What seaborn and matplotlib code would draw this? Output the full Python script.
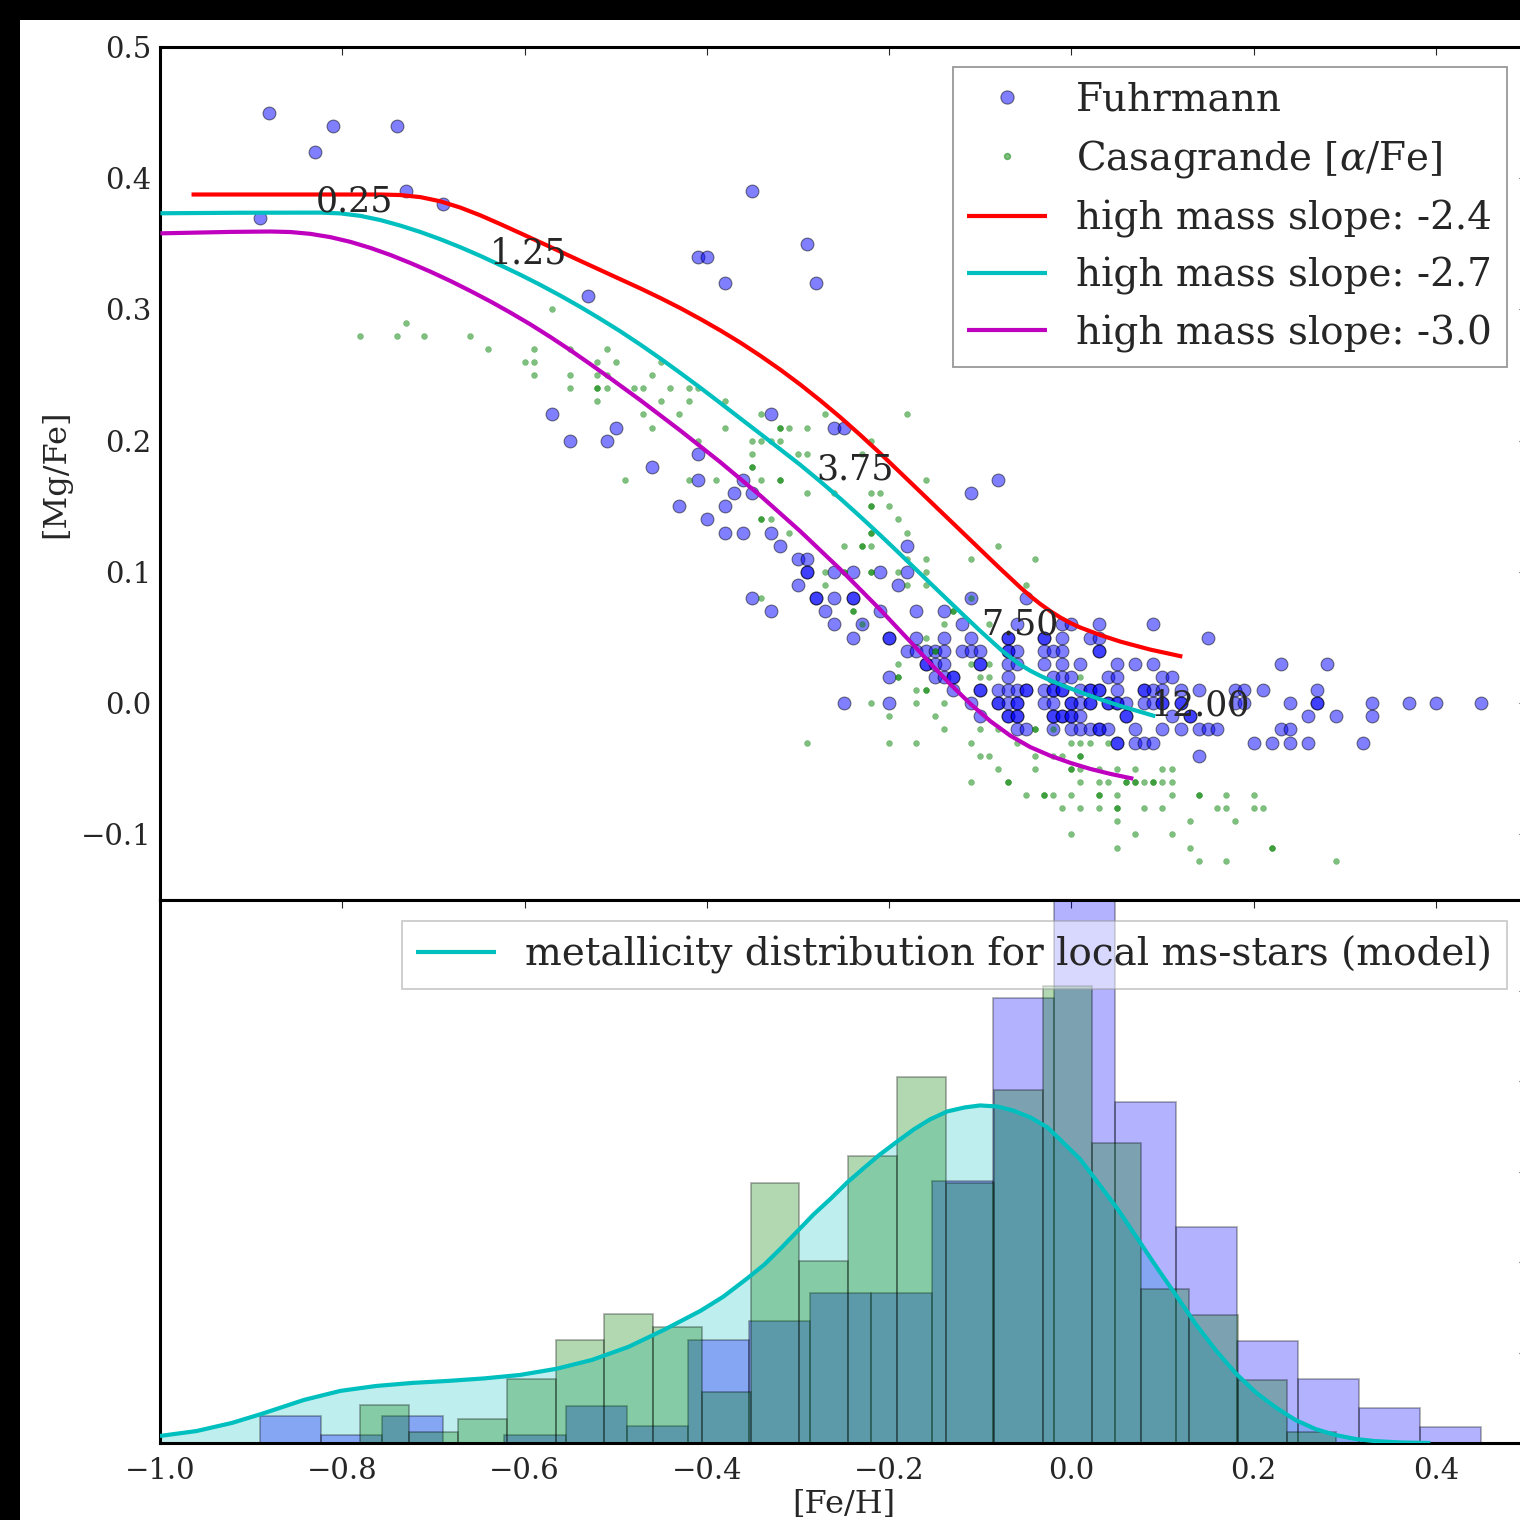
import numpy as np
import pandas as pd
import matplotlib
matplotlib.use("Agg")
import matplotlib.pyplot as plt
import seaborn as sns
from matplotlib.lines import Line2D
from matplotlib.patches import Rectangle

# ---------------- data ----------------
# Fuhrmann stars: ([Fe/H], [Mg/Fe])
fuhrmann_pts = [
    (-0.89, 0.37), (-0.88, 0.45), (-0.83, 0.42), (-0.81, 0.44), (-0.74, 0.44), (-0.73, 0.39), (-0.69, 0.38),
    (-0.53, 0.31), (-0.35, 0.39), (-0.41, 0.34), (-0.40, 0.34), (-0.38, 0.32), (-0.29, 0.35), (-0.28, 0.32),
    (-0.57, 0.22), (-0.55, 0.20), (-0.51, 0.20), (-0.50, 0.21), (-0.46, 0.18), (-0.41, 0.19), (-0.41, 0.17),
    (-0.43, 0.15), (-0.40, 0.14), (-0.38, 0.15), (-0.37, 0.16), (-0.36, 0.17), (-0.35, 0.16), (-0.38, 0.13),
    (-0.36, 0.13), (-0.33, 0.13), (-0.32, 0.12), (-0.33, 0.22), (-0.26, 0.21), (-0.25, 0.21), (-0.30, 0.11),
    (-0.29, 0.11), (-0.29, 0.10), (-0.29, 0.10), (-0.30, 0.09), (-0.26, 0.10), (-0.24, 0.10), (-0.21, 0.10),
    (-0.18, 0.10), (-0.18, 0.12), (-0.19, 0.09), (-0.35, 0.08), (-0.28, 0.08), (-0.28, 0.08), (-0.26, 0.08),
    (-0.24, 0.08), (-0.24, 0.08), (-0.33, 0.07), (-0.27, 0.07), (-0.21, 0.07), (-0.17, 0.07), (-0.14, 0.07),
    (-0.11, 0.08), (-0.05, 0.08), (-0.11, 0.16), (-0.08, 0.17),
    (-0.26, 0.06), (-0.23, 0.06), (-0.12, 0.06), (-0.06, 0.06), (-0.01, 0.06), (0.00, 0.06), (0.03, 0.06), (0.09, 0.06),
    (-0.24, 0.05), (-0.20, 0.05), (-0.20, 0.05), (-0.17, 0.05), (-0.14, 0.05), (-0.11, 0.05), (-0.07, 0.05),
    (-0.07, 0.05), (-0.03, 0.05), (-0.03, 0.05), (-0.01, 0.05), (0.02, 0.05), (0.03, 0.05), (0.15, 0.05),
    (-0.18, 0.04), (-0.17, 0.04), (-0.16, 0.04), (-0.15, 0.04), (-0.14, 0.04), (-0.12, 0.04), (-0.11, 0.04),
    (-0.10, 0.04), (-0.07, 0.04), (-0.07, 0.04), (-0.06, 0.04), (-0.03, 0.04), (-0.02, 0.04), (-0.01, 0.04),
    (0.03, 0.04), (0.03, 0.04),
    (-0.16, 0.03), (-0.16, 0.03), (-0.15, 0.03), (-0.14, 0.03), (-0.10, 0.03), (-0.10, 0.03), (-0.07, 0.03),
    (-0.06, 0.03), (-0.03, 0.03), (-0.01, 0.03), (0.01, 0.03), (0.05, 0.03), (0.07, 0.03), (0.09, 0.03),
    (0.23, 0.03), (0.28, 0.03),
    (-0.20, 0.02), (-0.15, 0.02), (-0.14, 0.02), (-0.13, 0.02), (-0.13, 0.02), (-0.07, 0.02), (-0.02, 0.02),
    (-0.01, 0.02), (0.00, 0.02), (0.04, 0.02), (0.05, 0.02), (0.10, 0.02), (0.11, 0.02),
    (-0.13, 0.01), (-0.10, 0.01), (-0.10, 0.01), (-0.08, 0.01), (-0.07, 0.01), (-0.06, 0.01), (-0.05, 0.01),
    (-0.05, 0.01), (-0.03, 0.01), (-0.02, 0.01), (-0.02, 0.01), (-0.01, 0.01), (-0.01, 0.01), (0.01, 0.01),
    (0.02, 0.01), (0.02, 0.01), (0.03, 0.01), (0.03, 0.01), (0.05, 0.01), (0.08, 0.01), (0.08, 0.01),
    (0.09, 0.01), (0.10, 0.01), (0.12, 0.01), (0.14, 0.01), (0.18, 0.01), (0.19, 0.01), (0.21, 0.01), (0.27, 0.01),
    (-0.25, 0.00), (-0.20, 0.00), (-0.11, 0.00), (-0.08, 0.00), (-0.08, 0.00), (-0.07, 0.00), (-0.06, 0.00),
    (-0.06, 0.00), (-0.03, 0.00), (-0.02, 0.00), (0.00, 0.00), (0.00, 0.00), (0.01, 0.00), (0.02, 0.00),
    (0.02, 0.00), (0.04, 0.00), (0.04, 0.00), (0.05, 0.00), (0.05, 0.00), (0.06, 0.00), (0.08, 0.00),
    (0.09, 0.00), (0.10, 0.00), (0.10, 0.00), (0.12, 0.00), (0.12, 0.00), (0.18, 0.00), (0.19, 0.00),
    (0.24, 0.00), (0.27, 0.00), (0.27, 0.00), (0.33, 0.00), (0.37, 0.00), (0.40, 0.00), (0.45, 0.00),
    (-0.10, -0.01), (-0.07, -0.01), (-0.07, -0.01), (-0.06, -0.01), (-0.06, -0.01), (-0.02, -0.01),
    (-0.02, -0.01), (-0.01, -0.01), (-0.01, -0.01), (0.00, -0.01), (0.00, -0.01), (0.01, -0.01),
    (0.06, -0.01), (0.06, -0.01), (0.11, -0.01), (0.13, -0.01), (0.13, -0.01), (0.26, -0.01), (0.29, -0.01), (0.33, -0.01),
    (-0.06, -0.02), (-0.05, -0.02), (-0.02, -0.02), (0.00, -0.02), (0.01, -0.02), (0.02, -0.02), (0.03, -0.02),
    (0.03, -0.02), (0.04, -0.02), (0.07, -0.02), (0.10, -0.02), (0.12, -0.02), (0.14, -0.02), (0.15, -0.02),
    (0.16, -0.02), (0.23, -0.02), (0.24, -0.02),
    (0.05, -0.03), (0.05, -0.03), (0.07, -0.03), (0.08, -0.03), (0.09, -0.03), (0.20, -0.03), (0.22, -0.03),
    (0.24, -0.03), (0.26, -0.03), (0.32, -0.03),
    (0.14, -0.04),
]

# Casagrande stars: ([Fe/H], [alpha/Fe])
casagrande_pts = [
    (-0.57, 0.30), (-0.73, 0.29),
    (-0.78, 0.28), (-0.74, 0.28), (-0.71, 0.28), (-0.66, 0.28),
    (-0.64, 0.27), (-0.59, 0.27), (-0.55, 0.27), (-0.51, 0.27),
    (-0.60, 0.26), (-0.59, 0.26), (-0.52, 0.26), (-0.50, 0.26), (-0.45, 0.26),
    (-0.59, 0.25), (-0.55, 0.25), (-0.52, 0.25), (-0.51, 0.25), (-0.46, 0.25),
    (-0.55, 0.24), (-0.52, 0.24), (-0.52, 0.24), (-0.51, 0.24), (-0.48, 0.24), (-0.47, 0.24), (-0.44, 0.24),
    (-0.42, 0.24), (-0.41, 0.24),
    (-0.52, 0.23), (-0.45, 0.23), (-0.42, 0.23), (-0.38, 0.23),
    (-0.47, 0.22), (-0.43, 0.22), (-0.34, 0.22), (-0.27, 0.22), (-0.18, 0.22),
    (-0.46, 0.21), (-0.38, 0.21), (-0.32, 0.21), (-0.32, 0.21), (-0.31, 0.21), (-0.29, 0.21),
    (-0.41, 0.20), (-0.35, 0.20), (-0.34, 0.20), (-0.33, 0.20), (-0.32, 0.20), (-0.22, 0.20),
    (-0.35, 0.19), (-0.30, 0.19), (-0.29, 0.19), (-0.23, 0.19),
    (-0.35, 0.18), (-0.35, 0.18),
    (-0.49, 0.17), (-0.42, 0.17), (-0.39, 0.17), (-0.34, 0.17), (-0.32, 0.17), (-0.32, 0.17), (-0.16, 0.17),
    (-0.29, 0.16), (-0.26, 0.16), (-0.22, 0.16), (-0.21, 0.16),
    (-0.22, 0.15), (-0.22, 0.15), (-0.20, 0.15),
    (-0.34, 0.14), (-0.34, 0.14), (-0.33, 0.14), (-0.19, 0.14),
    (-0.31, 0.13), (-0.22, 0.13), (-0.22, 0.13), (-0.18, 0.13),
    (-0.25, 0.12), (-0.23, 0.12), (-0.23, 0.12), (-0.22, 0.12), (-0.08, 0.12),
    (-0.18, 0.11), (-0.16, 0.11), (-0.11, 0.11), (-0.04, 0.11),
    (-0.27, 0.10), (-0.25, 0.10), (-0.25, 0.10), (-0.22, 0.10), (-0.22, 0.10), (-0.19, 0.10), (-0.16, 0.10),
    (-0.27, 0.09), (-0.18, 0.09), (-0.16, 0.09), (-0.05, 0.09),
    (-0.34, 0.08), (-0.11, 0.08),
    (-0.24, 0.07), (-0.24, 0.07), (-0.13, 0.07), (-0.13, 0.07),
    (-0.23, 0.06), (-0.14, 0.06), (-0.09, 0.06),
    (-0.16, 0.05), (-0.15, 0.04), (-0.15, 0.04),
    (-0.19, 0.03), (-0.11, 0.03), (-0.09, 0.03),
    (-0.19, 0.02), (-0.19, 0.02), (-0.10, 0.02), (-0.09, 0.02), (0.01, 0.02),
    (-0.17, 0.01), (-0.16, 0.01), (-0.16, 0.01),
    (-0.22, 0.00), (-0.17, 0.00), (-0.14, 0.00),
    (-0.20, -0.01), (-0.15, -0.01),
    (-0.14, -0.02), (-0.10, -0.02), (-0.08, -0.02), (-0.04, -0.02), (-0.04, -0.02), (-0.02, -0.02),
    (-0.29, -0.03), (-0.20, -0.03), (-0.17, -0.03), (-0.11, -0.03), (-0.06, -0.03), (0.00, -0.03),
    (0.01, -0.03), (0.02, -0.03), (0.04, -0.03),
    (-0.10, -0.04), (-0.09, -0.04), (-0.04, -0.04), (-0.02, -0.04), (-0.01, -0.04), (0.01, -0.04), (0.01, -0.04),
    (-0.08, -0.05), (-0.04, -0.05), (0.00, -0.05), (0.00, -0.05), (0.01, -0.05), (0.03, -0.05), (0.05, -0.05),
    (0.07, -0.05), (0.10, -0.05), (0.11, -0.05),
    (-0.11, -0.06), (-0.07, -0.06), (-0.07, -0.06), (0.01, -0.06), (0.03, -0.06), (0.04, -0.06), (0.06, -0.06),
    (0.06, -0.06), (0.07, -0.06), (0.07, -0.06), (0.08, -0.06), (0.09, -0.06), (0.09, -0.06), (0.10, -0.06), (0.11, -0.06),
    (-0.05, -0.07), (-0.03, -0.07), (-0.03, -0.07), (-0.02, -0.07), (0.00, -0.07), (0.03, -0.07), (0.03, -0.07),
    (0.05, -0.07), (0.11, -0.07), (0.14, -0.07), (0.14, -0.07), (0.17, -0.07), (0.20, -0.07),
    (-0.01, -0.08), (0.01, -0.08), (0.03, -0.08), (0.05, -0.08), (0.05, -0.08), (0.08, -0.08), (0.10, -0.08),
    (0.16, -0.08), (0.17, -0.08), (0.20, -0.08), (0.21, -0.08),
    (0.05, -0.09), (0.13, -0.09), (0.18, -0.09),
    (0.00, -0.10), (0.07, -0.10), (0.11, -0.10),
    (0.05, -0.11), (0.13, -0.11), (0.22, -0.11), (0.22, -0.11),
    (0.14, -0.12), (0.17, -0.12), (0.29, -0.12),
]

# chemical-evolution tracks for three high-mass IMF slopes
slope24_feh = [-0.9654, -0.8459, -0.7581, -0.7362, -0.7142, -0.6923, -0.6703, -0.6484, -0.6264, -0.6045,
               -0.5716, -0.5387, -0.5058, -0.4728, -0.4509, -0.4290, -0.4070, -0.3851, -0.3631, -0.3412,
               -0.3193, -0.2973, -0.2754, -0.2534, -0.2315, -0.2095, -0.1876, -0.1657, -0.1437, -0.1218,
               -0.0998, -0.0779, -0.0669, -0.0560, -0.0450, -0.0340, -0.0230, -0.0121, -0.0011, 0.0099,
               0.0318, 0.0538, 0.0867, 0.1218]
slope24_mg = [0.3876, 0.3876, 0.3876, 0.3872, 0.3856, 0.3824, 0.3776, 0.3717, 0.3650, 0.3581,
              0.3476, 0.3370, 0.3265, 0.3160, 0.3087, 0.3010, 0.2927, 0.2840, 0.2747, 0.2647,
              0.2541, 0.2427, 0.2306, 0.2178, 0.2043, 0.1902, 0.1756, 0.1610, 0.1463, 0.1317,
              0.1170, 0.1024, 0.0953, 0.0882, 0.0816, 0.0755, 0.0701, 0.0653, 0.0611, 0.0576,
              0.0519, 0.0469, 0.0408, 0.0355]
slope27_feh = [-0.9995, -0.9117, -0.8239, -0.8020, -0.7800, -0.7581, -0.7362, -0.7142, -0.6923, -0.6703,
               -0.6484, -0.6264, -0.6045, -0.5826, -0.5606, -0.5387, -0.5168, -0.4948, -0.4729, -0.4509,
               -0.4290, -0.4070, -0.3851, -0.3631, -0.3412, -0.3193, -0.2973, -0.2754, -0.2534, -0.2315,
               -0.2095, -0.1876, -0.1657, -0.1437, -0.1218, -0.0998, -0.0779, -0.0669, -0.0560, -0.0450,
               -0.0340, -0.0230, -0.0121, 0.0099, 0.0318, 0.0538, 0.0922]
slope27_mg = [0.3733, 0.3737, 0.3738, 0.3732, 0.3713, 0.3681, 0.3639, 0.3590, 0.3535, 0.3474,
              0.3408, 0.3337, 0.3264, 0.3187, 0.3105, 0.3019, 0.2928, 0.2833, 0.2732, 0.2626,
              0.2516, 0.2403, 0.2287, 0.2169, 0.2052, 0.1934, 0.1815, 0.1689, 0.1558, 0.1421,
              0.1279, 0.1134, 0.0987, 0.0840, 0.0694, 0.0549, 0.0411, 0.0349, 0.0293, 0.0247,
              0.0208, 0.0173, 0.0142, 0.0083, 0.0029, -0.0021, -0.0100]
slope30_feh = [-0.9995, -0.9227, -0.8788, -0.8568, -0.8349, -0.8130, -0.7910, -0.7691, -0.7471, -0.7252,
               -0.7032, -0.6813, -0.6594, -0.6374, -0.6155, -0.5935, -0.5716, -0.5496, -0.5277, -0.5058,
               -0.4728, -0.4290, -0.3851, -0.3412, -0.2973, -0.2534, -0.2095, -0.1766, -0.1547, -0.1327,
               -0.1108, -0.0889, -0.0669, -0.0450, -0.0230, -0.0011, 0.0208, 0.0428, 0.0680]
slope30_mg = [0.3580, 0.3591, 0.3594, 0.3590, 0.3576, 0.3551, 0.3515, 0.3469, 0.3415, 0.3354,
              0.3288, 0.3217, 0.3141, 0.3061, 0.2976, 0.2886, 0.2790, 0.2689, 0.2583, 0.2475,
              0.2308, 0.2077, 0.1836, 0.1581, 0.1309, 0.1019, 0.0711, 0.0468, 0.0303, 0.0143,
              -0.0005, -0.0137, -0.0248, -0.0335, -0.0401, -0.0455, -0.0501, -0.0539, -0.0576]

# age labels (Gyr) along the tracks
age_labels = ["0.25", "1.25", "3.75", "7.50", "12.00"]
age_feh = [-0.787, -0.596, -0.237, -0.056, 0.142]
age_mg = [0.382, 0.343, 0.178, 0.060, -0.002]

# metallicity histograms (normalised heights, 20 bins each)
fuhrmann_range = (-0.89, 0.45)
fuhrmann_hist = [0.149, 0.044, 0.149, 0.0, 0.044, 0.205, 0.094, 0.570, 0.675, 0.830,
                 0.830, 1.450, 2.457, 3.094, 1.882, 1.195, 0.564, 0.354, 0.194, 0.089]
casagrande_range = (-0.78, 0.29)
casagrande_hist = [0.210, 0.061, 0.133, 0.354, 0.570, 0.714, 0.642, 0.282, 1.439, 1.007,
                   1.583, 2.020, 1.439, 1.948, 2.524, 1.655, 0.852, 0.708, 0.349, 0.061]

# model metallicity distribution of local main-sequence stars
model_feh = [-1.000, -0.960, -0.921, -0.889, -0.842, -0.802, -0.763, -0.723, -0.684, -0.644, -0.605,
             -0.565, -0.526, -0.486, -0.447, -0.407, -0.382, -0.356, -0.337, -0.319, -0.301, -0.283,
             -0.264, -0.246, -0.227, -0.210, -0.191, -0.173, -0.155, -0.136, -0.117, -0.100, -0.081,
             -0.064, -0.045, -0.026, -0.009, 0.010, 0.030, 0.052, 0.072, 0.094, 0.116, 0.137, 0.159,
             0.181, 0.203, 0.225, 0.246, 0.268, 0.290, 0.312, 0.332, 0.361, 0.394]
model_density = [0.039, 0.066, 0.111, 0.160, 0.238, 0.288, 0.315, 0.332, 0.343, 0.357, 0.376,
                 0.410, 0.459, 0.531, 0.625, 0.730, 0.808, 0.908, 0.985, 1.074, 1.168, 1.262,
                 1.350, 1.439, 1.522, 1.594, 1.666, 1.732, 1.788, 1.832, 1.854, 1.865, 1.859,
                 1.837, 1.799, 1.743, 1.660, 1.566, 1.433, 1.284, 1.134, 0.968, 0.808, 0.653, 0.509,
                 0.382, 0.277, 0.194, 0.127, 0.077, 0.044, 0.022, 0.011, 0.003, 0.0]

# ---------------- style ----------------
sns.set_theme(style="white")
plt.rcParams["font.family"] = ["DejaVu Serif"]
plt.rcParams["mathtext.fontset"] = "dejavuserif"
plt.rcParams["axes.unicode_minus"] = True
plt.rcParams["lines.solid_capstyle"] = "butt"

C_BLUE, C_GREEN, C_RED = "#0000FF", "#008000", "#FF0000"
C_CYAN, C_MAG = "#00BFBF", "#BF00BF"

W = H = 1520.0
fig = plt.figure(figsize=(15.2, 15.2), dpi=100)
fig.patch.set_facecolor("black")
fig.add_artist(Rectangle((20 / W, 0), 1, 1 - 20 / H, transform=fig.transFigure,
                         facecolor="white", edgecolor="none", zorder=-10))

L = 160 / W
Wd = (1527 - 160) / W
ax1 = fig.add_axes([L, 1 - 900 / H, Wd, (900 - 47) / H])
ax2 = fig.add_axes([L, 1 - 1443 / H, Wd, (1443 - 900) / H], sharex=ax1)

# ---------------- top panel ----------------
fu = pd.DataFrame(fuhrmann_pts, columns=["feh", "mgfe"])
ca = pd.DataFrame(casagrande_pts, columns=["feh", "mgfe"])

sns.scatterplot(data=fu, x="feh", y="mgfe", ax=ax1, color=C_BLUE, s=85, alpha=0.5,
                edgecolor="black", linewidth=0.8, legend=False, zorder=2)
sns.scatterplot(data=ca, x="feh", y="mgfe", ax=ax1, color=C_GREEN, s=18, alpha=0.5,
                edgecolor=C_GREEN, linewidth=0.3, legend=False, zorder=3)

for fx, fy, col in [(slope24_feh, slope24_mg, C_RED),
                    (slope27_feh, slope27_mg, C_CYAN),
                    (slope30_feh, slope30_mg, C_MAG)]:
    sns.lineplot(x=fx, y=fy, ax=ax1, color=col, lw=3, sort=False, estimator=None, zorder=4)

for lab, x, y in zip(age_labels, age_feh, age_mg):
    ax1.text(x, y, lab, ha="center", va="center", fontsize=25, zorder=5)

ax1.set_xlim(-1.0, 0.5)
ax1.set_ylim(-0.15, 0.5)
ax1.set_yticks([-0.1, 0.0, 0.1, 0.2, 0.3, 0.4, 0.5])
ax1.set_ylabel("[Mg/Fe]", fontsize=23, labelpad=7)
ax1.set_xlabel("")
ax1.tick_params(axis="both", which="both", direction="in", top=True, right=True,
                length=5.5, width=0.8, labelsize=21, labelbottom=False, pad=6)

handles = [
    Line2D([], [], ls="none", marker="o", color=C_BLUE, alpha=0.5, markersize=9.5,
           markeredgecolor="black", markeredgewidth=0.8),
    Line2D([], [], ls="none", marker="o", color=C_GREEN, alpha=0.5, markersize=4.3,
           markeredgecolor=C_GREEN),
    Line2D([], [], color=C_RED, lw=3),
    Line2D([], [], color=C_CYAN, lw=3),
    Line2D([], [], color=C_MAG, lw=3),
]
labels = ["Fuhrmann", r"Casagrande [$\alpha$/Fe]", "high mass slope: -2.4",
          "high mass slope: -2.7", "high mass slope: -3.0"]
leg1 = ax1.legend(handles, labels, loc="upper right", bbox_to_anchor=(1507 / W, 1 - 67 / H),
                  bbox_transform=fig.transFigure, borderaxespad=0, fontsize=28, fancybox=False,
                  edgecolor="0.6", framealpha=1, handlelength=2.05, handletextpad=0.75,
                  labelspacing=0.5, borderpad=0.38)
leg1.get_frame().set_linewidth(1.3)
leg1.set_zorder(10)

# ---------------- bottom panel ----------------
ax2.fill_between(model_feh, model_density, color=C_CYAN, alpha=0.25, lw=0, zorder=1)

for rng, hv, col in [(fuhrmann_range, fuhrmann_hist, C_BLUE),
                     (casagrande_range, casagrande_hist, C_GREEN)]:
    edges = np.linspace(rng[0], rng[1], len(hv) + 1)
    centers = 0.5 * (edges[:-1] + edges[1:])
    sns.histplot(x=centers, weights=hv, bins=len(hv), binrange=rng, ax=ax2, stat="count",
                 color=col, alpha=0.3, edgecolor=(0, 0, 0, 0.3), linewidth=1.3, zorder=2)

sns.lineplot(x=model_feh, y=model_density, ax=ax2, color=C_CYAN, lw=3, sort=False, estimator=None,
             label="metallicity distribution for local ms-stars (model)", zorder=4)

ax2.set_xlim(-1.0, 0.5)
ax2.set_ylim(0, 3.0)
ax2.set_yticks([0, 0.5, 1.0, 1.5, 2.0, 2.5, 3.0])
ax2.set_yticklabels([])
ax2.set_ylabel("")
ax2.set_xticks([-1.0, -0.8, -0.6, -0.4, -0.2, 0.0, 0.2, 0.4])
ax2.set_xlabel("[Fe/H]", fontsize=23, labelpad=3)
ax2.tick_params(axis="both", which="both", direction="in", top=True, right=True,
                length=5.5, width=0.8, labelsize=21, pad=10)

leg2 = ax2.legend(loc="upper right", bbox_to_anchor=(1507 / W, 1 - 921 / H),
                  bbox_transform=fig.transFigure, borderaxespad=0, fontsize=28, fancybox=False,
                  edgecolor="0.6", framealpha=0.5, handlelength=2.05, handletextpad=0.75,
                  borderpad=0.38)
leg2.get_frame().set_linewidth(1.3)
leg2.set_zorder(10)

for ax in (ax1, ax2):
    for sp in ax.spines.values():
        sp.set_linewidth(2.2)
        sp.set_color("black")
    ax.set_facecolor("white")

fig.savefig("out.png", dpi=100, facecolor=fig.get_facecolor())
